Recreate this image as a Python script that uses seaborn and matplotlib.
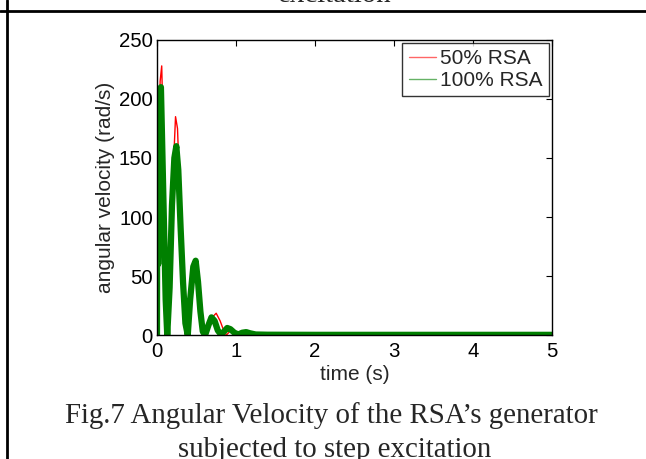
import matplotlib
matplotlib.use('Agg')
import matplotlib.pyplot as plt
import numpy as np
import pandas as pd
import seaborn as sns

# values: time (s) and angular velocity (rad/s)
t_50 = [0.0, 0.005, 0.02, 0.04, 0.06, 0.08, 0.10, 0.12, 0.14, 0.17, 0.20,
        0.235, 0.26, 0.29, 0.32, 0.35, 0.38, 0.42, 0.46, 0.49, 0.52, 0.55,
        0.58, 0.61, 0.65, 0.70, 0.75, 0.80, 0.85, 0.88, 0.92, 0.96, 1.00,
        1.05, 1.10, 1.15, 1.20, 1.30, 1.50, 2.0, 3.0, 4.0, 5.0]
w_50 = [0.0, 180, 120, 215, 228, 170, 100, 30, 0, 50, 130,
        185, 175, 120, 70, 25, 0, 25, 50, 55, 45, 25,
        5, 0, 6, 15, 18.5, 12, 3, 0, 3, 5, 3,
        0.5, 2, 3, 1.5, 0.3, 0.1, 0.1, 0.1, 0.1, 0.1]

t_100 = [0.0, 0.005, 0.015, 0.03, 0.05, 0.07, 0.09, 0.11, 0.13, 0.16, 0.19,
         0.22, 0.245, 0.27, 0.30, 0.33, 0.36, 0.39, 0.42, 0.46, 0.49, 0.52,
         0.55, 0.58, 0.61, 0.65, 0.69, 0.73, 0.77, 0.81, 0.85, 0.89, 0.93,
         0.98, 1.03, 1.08, 1.13, 1.18, 1.25, 1.40, 2.0, 3.0, 4.0, 5.0]
w_100 = [0.0, 190, 60, 200, 210, 150, 90, 30, 0, 40, 110,
         150, 160, 140, 90, 45, 10, 0, 30, 58, 63, 45,
         20, 3, 0, 8, 15, 12, 4, 0.5, 3, 6, 5,
         2, 0.5, 2, 2.5, 1.5, 0.5, 0.3, 0.2, 0.2, 0.2, 0.2]

labels = ['50% RSA', '100% RSA']
x_ticks = [0, 1, 2, 3, 4, 5]
y_ticks = [0, 50, 100, 150, 200, 250]

sns.set_style('white')
plt.rcParams['font.family'] = ['Liberation Sans', 'DejaVu Sans']

fig = plt.figure(figsize=(6.46, 4.59), dpi=100)
ax = fig.add_axes([0.243, 0.270, 0.611, 0.643])

sns.lineplot(x=t_50, y=w_50, color='#ff0000', linewidth=1.0,
             estimator=None, sort=False, label=labels[0], ax=ax)
sns.lineplot(x=t_100, y=w_100, color='#008000', linewidth=4.5,
             estimator=None, sort=False, label=labels[1], ax=ax)

ax.set_xlim(0, 5)
ax.set_ylim(0, 250)
ax.set_xticks(x_ticks)
ax.set_yticks(y_ticks)
ax.tick_params(direction='in', length=4, width=0.8, top=True, right=True,
               labelsize=14.7, colors='black')
ax.tick_params(axis='x', pad=5)
ax.tick_params(axis='y', pad=3)
for sp in ax.spines.values():
    sp.set_color('black')
    sp.set_linewidth(1.0)
ax.set_xlabel('time (s)', fontsize=15, labelpad=3)
ax.set_ylabel('angular velocity (rad/s)', fontsize=15, labelpad=3)

leg = ax.legend(loc='upper right', fontsize=15, frameon=True, fancybox=False,
                borderaxespad=0.15, handlelength=1.3, handletextpad=0.2,
                borderpad=0.3, labelspacing=0.12)
leg.get_frame().set_edgecolor('black')
leg.get_frame().set_linewidth(1.0)
for h in leg.get_lines():
    h.set_linewidth(1.0)
    h.set_alpha(0.6)

# page furniture around the figure: table borders and caption text
fig.add_artist(plt.Line2D([0, 1], [1 - 11 / 459, 1 - 11 / 459],
                          transform=fig.transFigure, color='black', lw=2))
fig.add_artist(plt.Line2D([7 / 646, 7 / 646], [0, 1],
                          transform=fig.transFigure, color='black', lw=2))
serif = ['Liberation Serif', 'DejaVu Serif']
fig.text(335 / 646, 1 - 2.5 / 459, 'excitation', ha='center', va='baseline',
         fontsize=20.8, family=serif)
fig.text(331 / 646, 1 - 423 / 459, 'Fig.7 Angular Velocity of the RSA\u2019s generator',
         ha='center', va='baseline', fontsize=20.8, family=serif)
fig.text(335 / 646, 1 - 457 / 459, 'subjected to step excitation',
         ha='center', va='baseline', fontsize=20.8, family=serif)

fig.savefig('out.png', dpi=100)
